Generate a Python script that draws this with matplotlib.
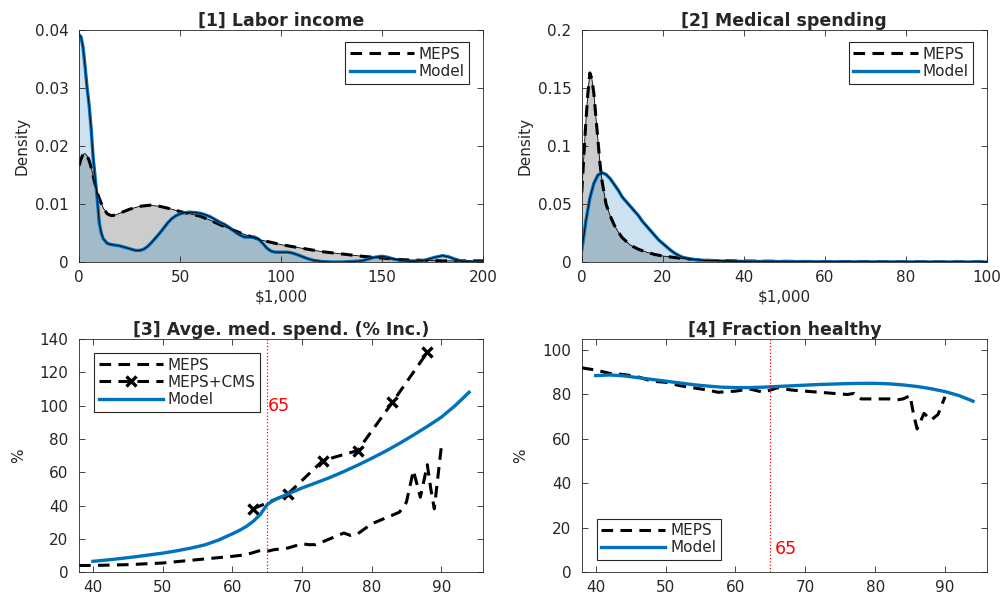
import matplotlib
matplotlib.use("Agg")
import matplotlib.pyplot as plt

# [1] Labor income density ($1,000)
inc_meps_x = [0, 1, 2, 3, 4, 5, 6, 7, 8, 9, 10, 12, 14, 16, 18, 20, 25, 30, 35, 40, 45, 50, 55,
              60, 65, 70, 75, 80, 85, 90, 100, 110, 120, 130, 140, 150, 160, 170, 180, 190, 200]
inc_meps_y = [0.0166, 0.0178, 0.0186, 0.0187, 0.0183, 0.0175, 0.0163, 0.0148, 0.0133, 0.0120,
              0.0110, 0.0093, 0.0083, 0.0080, 0.0081, 0.0084, 0.0091, 0.0096, 0.0098, 0.0096,
              0.0092, 0.0087, 0.0083, 0.0079, 0.0072, 0.0064, 0.0057, 0.0050, 0.0044, 0.0038,
              0.0030, 0.0024, 0.0018, 0.0014, 0.0010, 0.0007, 0.0004, 0.0003, 0.0002, 0.0002,
              0.0002]
inc_model_x = [0, 1, 2, 3, 4, 5, 6, 7, 8, 9, 10, 11, 12, 14, 16, 18, 20, 22, 25, 28, 30, 32,
               34, 36, 38, 40, 42, 44, 46, 48, 50, 52, 55, 58, 60, 62, 65, 68, 70, 72, 75, 78,
               80, 82, 85, 87, 89, 91, 93, 95, 97, 100, 103, 105, 107, 110, 113, 116, 120, 125,
               130, 135, 140, 143, 146, 150, 153, 156, 160, 165, 170, 173, 176, 180, 183, 186,
               190, 195, 200]
inc_model_y = [0.0392, 0.0388, 0.0370, 0.0337, 0.0300, 0.0270, 0.0230, 0.0180, 0.0145, 0.0110,
               0.0068, 0.0050, 0.0040, 0.0032, 0.0030, 0.0029, 0.0028, 0.0026, 0.0023, 0.0020,
               0.0020, 0.0022, 0.0027, 0.0034, 0.0042, 0.0050, 0.0059, 0.0068, 0.0075, 0.0080,
               0.0083, 0.0085, 0.0086, 0.0085, 0.0084, 0.0082, 0.0078, 0.0072, 0.0068, 0.0065,
               0.0058, 0.0050, 0.0046, 0.0043, 0.0043, 0.0043, 0.0039, 0.0032, 0.0024, 0.0019,
               0.0017, 0.0017, 0.0017, 0.0016, 0.0014, 0.0010, 0.0006, 0.0003, 0.0001, 0.0000,
               0.0000, 0.0001, 0.0002, 0.0005, 0.0008, 0.0010, 0.0008, 0.0005, 0.0002, 0.0001,
               0.0002, 0.0005, 0.0008, 0.0011, 0.0009, 0.0005, 0.0001, 0.0000, 0.0000]

# [2] Medical spending density ($1,000)
med_meps_x = [0, 0.5, 1, 1.5, 2, 2.5, 3, 3.5, 4, 4.5, 5, 6, 7, 8, 9, 10, 12, 14, 16, 18, 20,
              25, 30, 40, 60, 80, 100]
med_meps_y = [0.060, 0.090, 0.120, 0.145, 0.163, 0.158, 0.145, 0.125, 0.105, 0.085, 0.070,
              0.050, 0.040, 0.032, 0.026, 0.021, 0.0145, 0.011, 0.0085, 0.0065, 0.0052, 0.003,
              0.0015, 0.0008, 0.0004, 0.0002, 0.0001]
med_model_x = [0, 0.5, 1, 2, 3, 4, 5, 6, 7, 8, 9, 10, 11, 12, 13, 14, 15, 16, 17, 18, 19, 20,
               21, 22, 23, 24, 25, 27, 30, 35, 40, 60, 80, 100]
med_model_y = [0.010, 0.022, 0.035, 0.055, 0.068, 0.075, 0.077, 0.0755, 0.072, 0.067, 0.062,
               0.056, 0.052, 0.048, 0.044, 0.040, 0.035, 0.031, 0.027, 0.023, 0.019, 0.016,
               0.013, 0.010, 0.0075, 0.0055, 0.004, 0.0025, 0.0015, 0.0008, 0.0005, 0.0002,
               0.0001, 0.0000]

# [3] Average medical spending, % of income, by age
spend_meps_age = [38, 40, 45, 50, 55, 60, 62, 64, 65, 66, 68, 70, 71, 72, 74, 76, 77, 78, 80,
                  82, 84, 85, 86, 87, 88, 88.5, 89, 90]
spend_meps = [4, 4, 4.5, 5.5, 7.5, 9.5, 10.5, 13, 12.5, 13.5, 14.5, 17, 16.5, 16.5, 20, 23.5,
              22, 23, 29, 32.5, 36, 42, 61, 45, 64.5, 50, 38, 75]
spend_cms_age = [63, 68, 73, 78, 83, 88]
spend_cms = [38, 47, 67, 73, 102, 132]
spend_model_age = [40, 42, 44, 46, 48, 50, 52, 54, 56, 58, 60, 61, 62, 63, 64, 64.5, 65, 65.5,
                   66, 68, 70, 72, 74, 76, 78, 80, 82, 84, 86, 88, 90, 92, 94]
spend_model = [6.5, 7.3, 8.2, 9.2, 10.3, 11.4, 12.8, 14.4, 16.3, 19.2, 23, 25, 27.4, 30.5,
               34.5, 37.5, 40.5, 42, 43.2, 47, 50.5, 53.6, 56.8, 60.4, 64.2, 68.3, 72.6, 77.3,
               82.3, 87.5, 93, 100, 108]

# [4] Fraction healthy (%) by age
hlth_meps_age = [38, 40, 42, 44, 46, 48, 50, 52, 54, 56, 57.5, 60, 62, 64, 65, 66, 68, 70, 72,
                 74, 76, 77, 78, 80, 82, 83, 84, 85, 85.5, 86, 87, 88, 89, 90]
hlth_meps = [92, 91, 89.5, 89, 88, 86, 85.5, 84, 83, 82, 81, 81.5, 82.5, 81, 82, 83, 82, 81.5,
             81, 80.5, 80, 80.5, 78, 78, 78, 77.5, 78, 79.5, 71, 64.5, 71.5, 68.5, 71, 79]
hlth_model_age = [40, 42, 44, 46, 48, 50, 52, 54, 56, 58, 60, 62, 64, 66, 68, 70, 72, 74, 76,
                  78, 80, 82, 84, 86, 88, 90, 92, 94]
hlth_model = [88.5, 88.8, 88.4, 87.6, 86.8, 86, 85.2, 84.4, 83.8, 83.3, 83.1, 83.1, 83.3, 83.6,
              83.9, 84.2, 84.5, 84.7, 84.9, 85, 85, 84.8, 84.3, 83.6, 82.6, 81.3, 79.5, 77]

BLUE = "#0072BD"
TXT = "#262626"
DASH = (3.8, 2.4)

plt.rcParams["font.family"] = ["DejaVu Sans"]
plt.rcParams["font.size"] = 11
plt.rcParams["text.color"] = TXT
plt.rcParams["axes.labelcolor"] = TXT
plt.rcParams["xtick.color"] = TXT
plt.rcParams["ytick.color"] = TXT
plt.rcParams["axes.edgecolor"] = TXT


def _style(ax, title):
    ax.set_title(title, fontweight="bold", fontsize=12.5, pad=3)
    ax.tick_params(direction="in", top=True, right=True, length=4, width=0.6,
                   labelsize=11)
    ax.tick_params(axis="x", pad=6)
    ax.tick_params(axis="y", pad=7.5)
    for sp in ax.spines.values():
        sp.set_linewidth(0.6)


def _legend(ax, loc, anchor):
    leg = ax.legend(loc=loc, bbox_to_anchor=anchor, borderaxespad=0, fancybox=False,
                    edgecolor=TXT, framealpha=1, handlelength=4.2, borderpad=0.3,
                    labelspacing=0.15, handletextpad=0.3, fontsize=11)
    leg.get_frame().set_linewidth(0.8)
    return leg


def _density_panel(ax, mx, my, sx, sy):
    ax.fill_between(mx, my, 0, facecolor="black", alpha=0.2, linewidth=0)
    ax.fill_between(sx, sy, 0, facecolor=BLUE, alpha=0.2, linewidth=0)
    ax.plot(mx, my, "--", color="black", linewidth=2.2, dashes=DASH, label="MEPS")
    ax.plot(sx, sy, "-", color=BLUE, linewidth=2.4, label="Model")
    ax.plot(mx, my, "-", color="black", linewidth=0.6)
    ax.plot(sx, sy, "-", color="black", linewidth=0.6)


fig = plt.figure(figsize=(10.03, 6.01), dpi=100)
ax1 = fig.add_axes([0.0788, 0.564, 0.4028, 0.386])
ax2 = fig.add_axes([0.580, 0.564, 0.404, 0.386])
ax3 = fig.add_axes([0.0788, 0.048, 0.4028, 0.388])
ax4 = fig.add_axes([0.580, 0.048, 0.404, 0.388])

# Panel 1
_density_panel(ax1, inc_meps_x, inc_meps_y, inc_model_x, inc_model_y)
ax1.set_xlim(0, 200)
ax1.set_ylim(0, 0.04)
ax1.set_xticks([0, 50, 100, 150, 200])
ax1.set_yticks([0, 0.01, 0.02, 0.03, 0.04])
ax1.set_yticklabels(["0", "0.01", "0.02", "0.03", "0.04"])
ax1.set_xlabel("$1,000", labelpad=3)
ax1.set_ylabel("Density", labelpad=4)
_style(ax1, "[1] Labor income")
_legend(ax1, "upper right", (0.965, 0.948))

# Panel 2
_density_panel(ax2, med_meps_x, med_meps_y, med_model_x, med_model_y)
ax2.set_xlim(0, 100)
ax2.set_ylim(0, 0.2)
ax2.set_xticks([0, 20, 40, 60, 80, 100])
ax2.set_yticks([0, 0.05, 0.1, 0.15, 0.2])
ax2.set_yticklabels(["0", "0.05", "0.1", "0.15", "0.2"])
ax2.set_xlabel("$1,000", labelpad=3)
ax2.set_ylabel("Density", labelpad=4)
_style(ax2, "[2] Medical spending")
_legend(ax2, "upper right", (0.965, 0.948))

# Panel 3
ax3.plot(spend_meps_age, spend_meps, "--", color="black", linewidth=2.2, dashes=DASH,
         label="MEPS")
ax3.plot(spend_cms_age, spend_cms, "--", color="black", linewidth=2.2, dashes=DASH,
         marker="x", markersize=6.5, markeredgewidth=2.4, label="MEPS+CMS")
ax3.plot(spend_model_age, spend_model, "-", color=BLUE, linewidth=2.4, label="Model")
ax3.axvline(65, color="red", linestyle=":", linewidth=0.9)
ax3.text(65.15, 100, "65", color="red", fontsize=12.5, va="center", ha="left")
ax3.set_xlim(38, 96)
ax3.set_ylim(0, 140)
ax3.set_xticks([40, 50, 60, 70, 80, 90])
ax3.set_yticks(range(0, 141, 20))
ax3.set_ylabel("%", labelpad=10)
_style(ax3, "[3] Avge. med. spend. (% Inc.)")
_legend(ax3, "upper left", (0.037, 0.94))

# Panel 4
ax4.plot(hlth_meps_age, hlth_meps, "--", color="black", linewidth=2.2, dashes=DASH,
         label="MEPS")
ax4.plot(hlth_model_age, hlth_model, "-", color=BLUE, linewidth=2.4, label="Model")
ax4.axvline(65, color="red", linestyle=":", linewidth=0.9)
ax4.text(65.6, 10.5, "65", color="red", fontsize=12.5, va="center", ha="left")
ax4.set_xlim(38, 96)
ax4.set_ylim(0, 105)
ax4.set_xticks([40, 50, 60, 70, 80, 90])
ax4.set_yticks(range(0, 101, 20))
ax4.set_ylabel("%", labelpad=10)
_style(ax4, "[4] Fraction healthy")
_legend(ax4, "lower left", (0.037, 0.052))

fig.savefig("out.png", dpi=100)
